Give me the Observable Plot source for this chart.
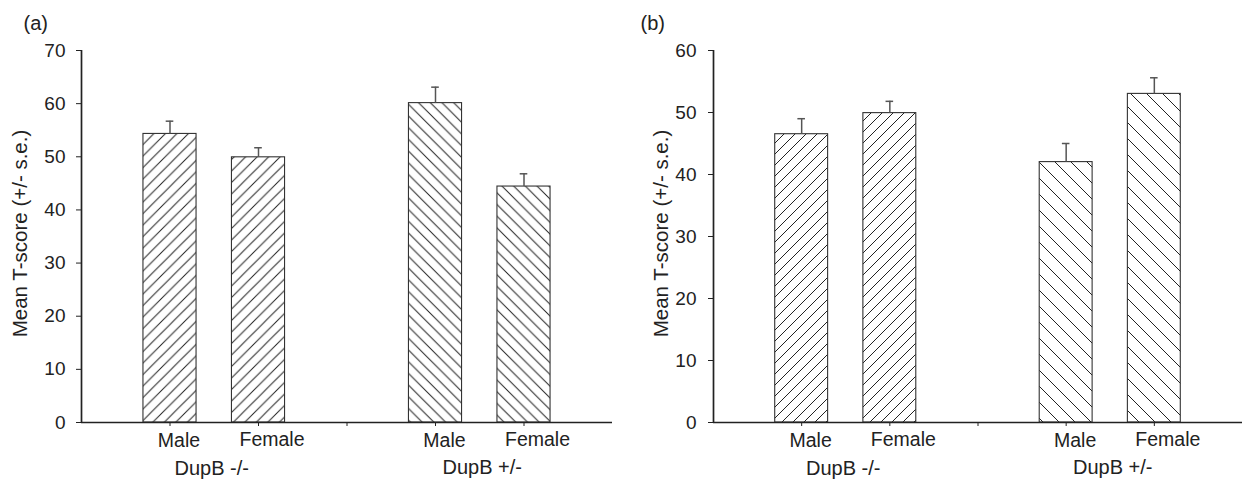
<!DOCTYPE html>
<html>
<head>
<meta charset="utf-8">
<script src="https://cdn.jsdelivr.net/npm/d3@7"></script>
<script src="https://cdn.jsdelivr.net/npm/@observablehq/plot@0.6"></script>
<style>
  html, body { margin: 0; padding: 0; background: #fff; }
  #wrap { display: flex; width: 1242px; height: 483px; }
</style>
</head>
<body>
<div id="wrap"></div>
<script>
// ---- data ----
const categories = ["Male", "Female", "Male", "Female"];
const groups = ["DupB -/-", "DupB -/-", "DupB +/-", "DupB +/-"];
const positions = [1, 2, 4, 5];
const xTicks = [1, 2, 3, 4, 5];

const meanA = [54.3, 49.9, 60.1, 44.4];
const seA   = [2.4, 1.8, 3.0, 2.4];
const yTicksA = [0, 10, 20, 30, 40, 50, 60, 70];

const meanB = [46.5, 49.9, 42.0, 53.0];
const seB   = [2.5, 1.9, 3.0, 2.6];
const yTicksB = [0, 10, 20, 30, 40, 50, 60];

const yLabel = "Mean T-score (+/- s.e.)";
const groupNames = ["DupB -/-", "DupB +/-"];

const FONT = "'Liberation Sans', Arial, Helvetica, sans-serif";
const INK = "#222";

function addPatterns(svg, id, fwdSpacing, backSpacing) {
  const defs = d3.select(svg).insert("defs", ":first-child");
  const mk = (name, s, dir) => {
    const p = defs.append("pattern")
      .attr("id", name).attr("patternUnits", "userSpaceOnUse")
      .attr("width", s).attr("height", s);
    p.append("rect").attr("width", s).attr("height", s).attr("fill", "#fff");
    const d = dir === "fwd"
      ? `M0,${s}L${s},0M${-s/2},${s/2}L${s/2},${-s/2}M${s/2},${1.5*s}L${1.5*s},${s/2}`
      : `M0,0L${s},${s}M${-s/2},${s/2}L${s/2},${1.5*s}M${s/2},${-s/2}L${1.5*s},${s/2}`;
    p.append("path").attr("d", d).attr("stroke", "#222").attr("stroke-width", 1).attr("fill", "none");
  };
  mk(id + "-fwd", fwdSpacing, "fwd");
  mk(id + "-back", backSpacing, "back");
}

function panel({mean, se, yMax, yTicks, tag, id, marginLeft, marginRight, tagDx, fwd, back, tickPad, labelX}) {
  const data = positions.map((p, i) => ({pos: p, cat: categories[i], group: groups[i], mean: mean[i], se: se[i]}));
  const groupData = groupNames.map(g => ({
    group: g,
    pos: d3.mean(data.filter(d => d.group === g), d => d.pos)
  }));
  const barHalf = 0.3, capHalf = 0.043;
  const plot = Plot.plot({
    width: 621,
    height: 483,
    marginLeft, marginRight,
    marginTop: 50,
    marginBottom: 61,
    style: {fontFamily: FONT, fontSize: "19px", color: INK, background: "#fff", overflow: "visible"},
    x: {domain: [0, 6], ticks: xTicks, tickSize: 4, tickFormat: () => "", label: null},
    y: {domain: [0, yMax], ticks: yTicks, tickSize: 5, tickPadding: tickPad, label: null},
    marks: [
      Plot.rectY(data.filter(d => d.group === groupNames[0]), {
        x1: d => d.pos - barHalf, x2: d => d.pos + barHalf, y1: 0, y2: "mean",
        fill: `url(#${id}-fwd)`, stroke: "#333", strokeWidth: 1.1
      }),
      Plot.rectY(data.filter(d => d.group === groupNames[1]), {
        x1: d => d.pos - barHalf, x2: d => d.pos + barHalf, y1: 0, y2: "mean",
        fill: `url(#${id}-back)`, stroke: "#333", strokeWidth: 1.1
      }),
      Plot.ruleX(data, {x: "pos", y1: "mean", y2: d => d.mean + d.se, stroke: "#555", strokeWidth: 1.5}),
      Plot.ruleY(data, {y: d => d.mean + d.se, x1: d => d.pos - capHalf, x2: d => d.pos + capHalf, stroke: "#555", strokeWidth: 1.5}),
      Plot.ruleY([0], {stroke: INK, strokeWidth: 1.7}),
      Plot.ruleX([0], {stroke: INK, strokeWidth: 1.7}),
      Plot.text(data.filter(d => d.cat === "Male"), {
        x: "pos", text: "cat", frameAnchor: "bottom", lineAnchor: "middle", textAnchor: "middle",
        dy: 18.5, dx: 9, fontSize: 19.5, fill: INK
      }),
      Plot.text(data.filter(d => d.cat === "Female"), {
        x: "pos", text: "cat", frameAnchor: "bottom", lineAnchor: "middle", textAnchor: "middle",
        dy: 17, dx: 13.5, fontSize: 19.5, fill: INK
      }),
      Plot.text(groupData.slice(0, 1), {
        x: "pos", text: "group", frameAnchor: "bottom", lineAnchor: "middle", textAnchor: "middle",
        dy: 46, dx: -2.5, fontSize: 20, fill: INK
      }),
      Plot.text(groupData.slice(1), {
        x: "pos", text: "group", frameAnchor: "bottom", lineAnchor: "middle", textAnchor: "middle",
        dy: 45, dx: 2.5, fontSize: 20, fill: INK
      }),
      Plot.text([yLabel], {
        text: d => d, frameAnchor: "left", rotate: -90, textAnchor: "middle", lineAnchor: "middle",
        dx: -(marginLeft - labelX), dy: -3, fontSize: 20.5, fill: INK
      }),
      Plot.text([tag], {
        text: d => d, frameAnchor: "top-left", textAnchor: "start", lineAnchor: "top",
        dx: tagDx, dy: -35, fontSize: 20, fill: INK
      })
    ]
  });
  addPatterns(plot, id, fwd, back);
  return plot;
}

const wrap = document.getElementById("wrap");
wrap.appendChild(panel({
  mean: meanA, se: seA, yMax: 70, yTicks: yTicksA, tag: "(a)", id: "A",
  marginLeft: 81, marginRight: 9, tagDx: -58, fwd: 11.5, back: 11.7, tickPad: 11, labelX: 20
}));
wrap.appendChild(panel({
  mean: meanB, se: seB, yMax: 60, yTicks: yTicksB, tag: "(b)", id: "B",
  marginLeft: 92, marginRight: 0, tagDx: -73, fwd: 11, back: 16, tickPad: 12, labelX: 40
}));
</script>
</body>
</html>
